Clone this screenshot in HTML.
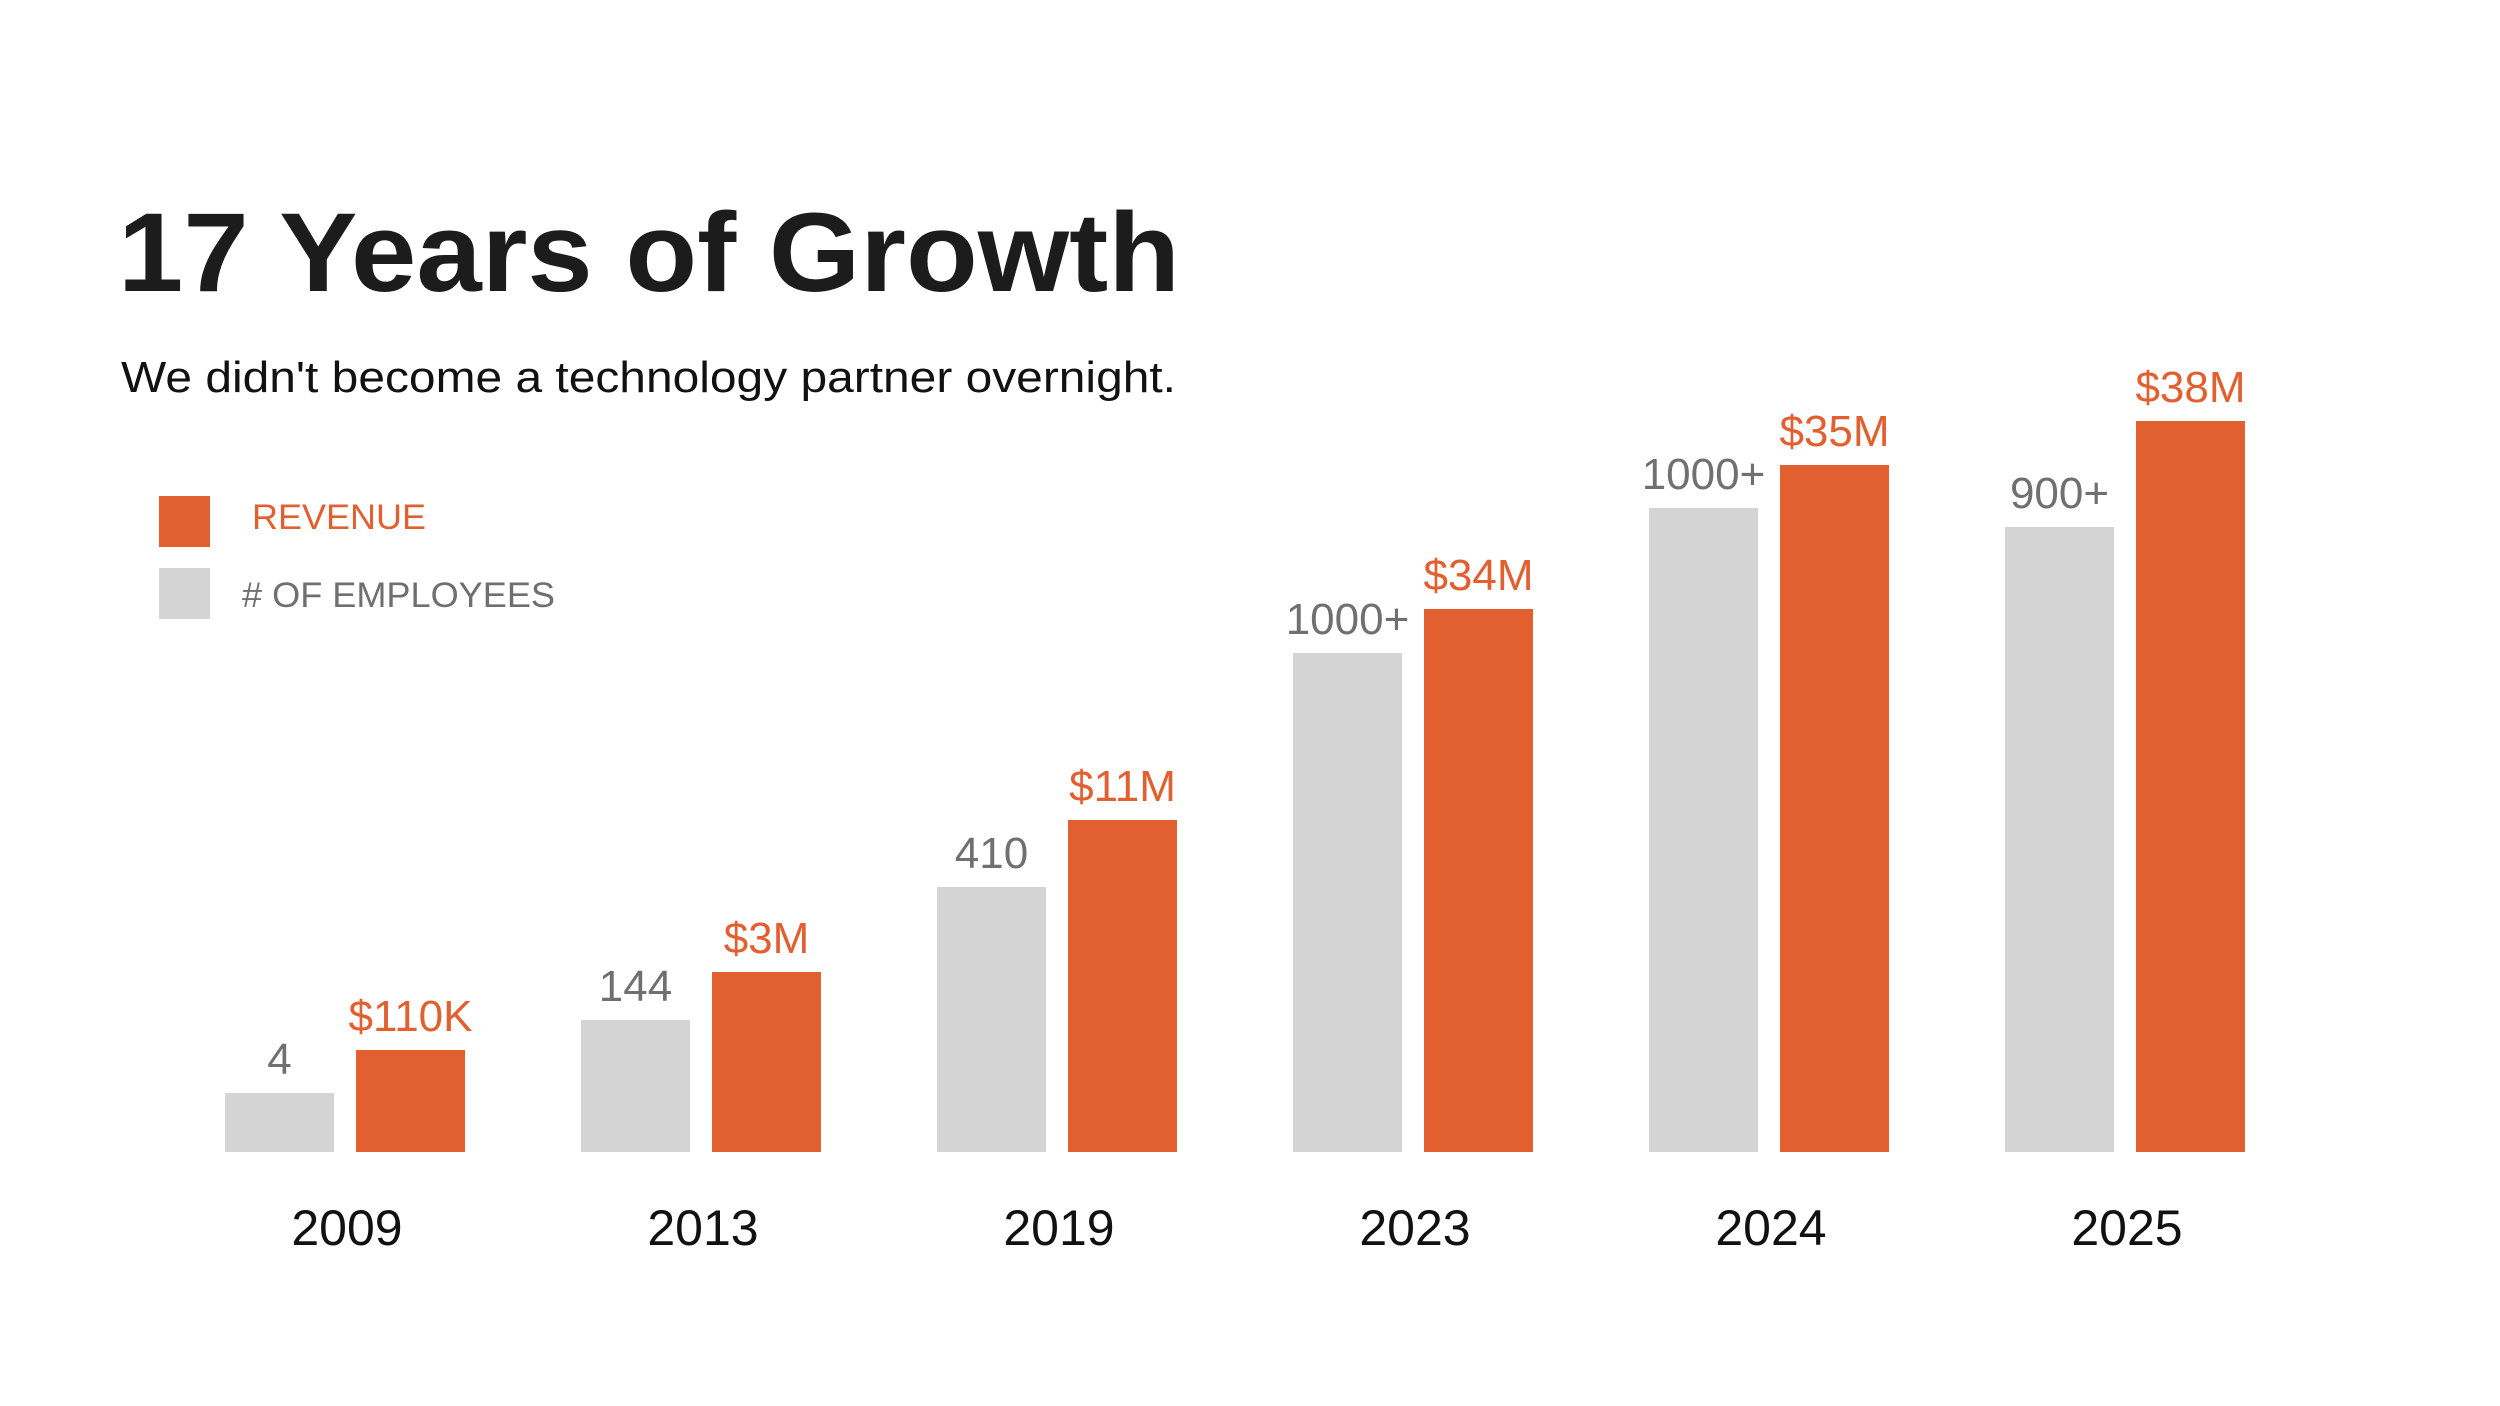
<!DOCTYPE html>
<html><head><meta charset="utf-8"><style>
html,body{margin:0;padding:0;background:#fff;}
svg{display:block;font-family:"Liberation Sans",sans-serif;}
</style></head><body>
<svg id="chart" width="2500" height="1406" viewBox="0 0 2500 1406" xmlns="http://www.w3.org/2000/svg">
<rect width="2500" height="1406" fill="#fff"/>
<text x="118" y="291" font-size="112" font-weight="bold" fill="#1c1c1c" textLength="1062" lengthAdjust="spacingAndGlyphs">17 Years of Growth</text>
<text x="121" y="392" font-size="44" fill="#111" textLength="1055" lengthAdjust="spacingAndGlyphs">We didn't become a technology partner overnight.</text>
<g>
<rect x="159" y="496" width="51" height="51" fill="#E25F2F"/>
<text x="252" y="529" font-size="35" fill="#E25F2F" textLength="174" lengthAdjust="spacingAndGlyphs">REVENUE</text>
<rect x="159" y="568" width="51" height="51" fill="#D4D4D4"/>
<text x="242" y="607" font-size="35" fill="#6f6f6f" textLength="313" lengthAdjust="spacingAndGlyphs"># OF EMPLOYEES</text>
</g>
<g id="bars"></g>
</svg>
<script>
const years = ["2009","2013","2019","2023","2024","2025"];
const employeeHeights = [0.59, 1.32, 2.65, 4.99, 6.44, 6.25];
const revenueHeights = [1.02, 1.80, 3.32, 5.43, 6.87, 7.31];
const employeeLabels = ["4","144","410","1000+","1000+","900+"];
const revenueLabels = ["$110K","$3M","$11M","$34M","$35M","$38M"];

const NS = "http://www.w3.org/2000/svg";
const baseY = 1152, unitPx = 100;
const x0 = 345, step = 356, barW = 109, gap = 11;
function xCenter(i){ return x0 + i*step; }
function yPos(v){ return baseY - v*unitPx; }
const g = document.getElementById('bars');
function mk(tag, attrs){ const e=document.createElementNS(NS,tag); for(const k in attrs) e.setAttribute(k,attrs[k]); return e; }

years.forEach((yr,i)=>{
  const c = xCenter(i);
  const ge = yPos(employeeHeights[i]);
  const r1 = mk('rect',{x:c-gap-barW,y:ge,width:barW,height:baseY-ge,fill:'#D4D4D4'});
  
  
  g.appendChild(r1);
  const t1 = mk('text',{x:c-gap-barW/2,y:ge-19,'font-size':44,fill:'#707070','text-anchor':'middle'});
  t1.textContent = employeeLabels[i];
  
  
  g.appendChild(t1);
  const gr = yPos(revenueHeights[i]);
  const r2 = mk('rect',{x:c+gap,y:gr,width:barW,height:baseY-gr,fill:'#E25F2F'});
  
  
  g.appendChild(r2);
  const t2 = mk('text',{x:c+gap+barW/2,y:gr-19,'font-size':44,fill:'#E25F2F','text-anchor':'middle'});
  t2.textContent = revenueLabels[i];
  
  
  g.appendChild(t2);
  const t3 = mk('text',{x:c+2,y:1245,'font-size':50,fill:'#111','text-anchor':'middle'});
  t3.textContent = yr;
  
  
  g.appendChild(t3);
});
</script>
</body></html>
